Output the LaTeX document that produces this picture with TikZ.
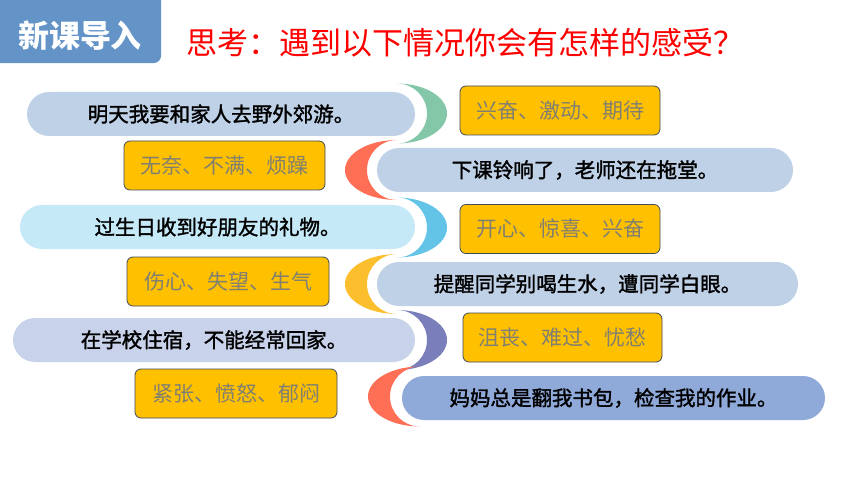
\documentclass[tikz,border=0pt]{standalone}
\usepackage{fontspec}
\setmainfont{Noto Sans CJK SC}
\newfontfamily\pillfont{Noto Sans CJK SC}[FakeBold=1.6]
\definecolor{titleblue}{HTML}{6393C7}
\definecolor{pillA}{HTML}{BFD1E7}
\definecolor{pillC}{HTML}{C6E9F8}
\definecolor{pillE}{HTML}{C8D2EA}
\definecolor{pillF}{HTML}{8FA9D9}
\definecolor{boxfill}{HTML}{FFC000}
\definecolor{boxline}{HTML}{404A5A}
\definecolor{boxtext}{HTML}{7F7F72}
\definecolor{cgreen}{HTML}{84C7A8}
\definecolor{cred}{HTML}{FF6F55}
\definecolor{cblue}{HTML}{63C4E8}
\definecolor{cyellow}{HTML}{FBBF2D}
\definecolor{cpurple}{HTML}{7A7FBB}
\begin{document}
\begin{tikzpicture}[x=1pt,y=-1pt,
  pill/.style={rectangle, rounded corners=22pt, minimum height=44pt, inner sep=0pt,
    font=\fontsize{20.5}{24}\pillfont, text=black},
  emobox/.style={rectangle, rounded corners=6pt, draw=boxline, line width=0.8pt, fill=boxfill,
    minimum height=49pt, minimum width=200pt, inner sep=0pt,
    font=\fontsize{21}{25}\selectfont, text=boxtext}]
\useasboundingbox (0,0) rectangle (860,484);
% title
\node[rectangle, rounded corners=8pt, fill=titleblue, minimum width=170pt, minimum height=73pt,
  anchor=north west, inner sep=0pt] (tbox) at (-9,-10) {};
\node[text=white, font=\fontsize{31}{34}\selectfont\bfseries, inner sep=0pt] (ttext) at (80,36) {新课导入};
\node[text=red, font=\fontsize{31}{36}\selectfont, anchor=west, inner sep=0pt] (q) at (186,43) {思考：遇到以下情况你会有怎样的感受？};
% crescents
\fill[cgreen] (397,83.5) arc[start angle=90,end angle=-90,x radius=50pt,y radius=30pt]
  arc[start angle=-90,end angle=90,radius=30pt] -- cycle;
\fill[cred] (397,140) arc[start angle=90,end angle=270,x radius=52pt,y radius=30pt]
  arc[start angle=270,end angle=90,radius=30pt] -- cycle;
\fill[cblue] (397,197.5) arc[start angle=90,end angle=-90,x radius=50pt,y radius=30pt]
  arc[start angle=-90,end angle=90,radius=30pt] -- cycle;
\fill[cyellow] (397,254) arc[start angle=90,end angle=270,x radius=52pt,y radius=30pt]
  arc[start angle=270,end angle=90,radius=30pt] -- cycle;
\fill[cpurple] (397,310) arc[start angle=90,end angle=-90,x radius=50pt,y radius=30pt]
  arc[start angle=-90,end angle=90,radius=30pt] -- cycle;
\fill[cred] (420,366.5) arc[start angle=90,end angle=270,x radius=52pt,y radius=30pt]
  arc[start angle=270,end angle=90,radius=30pt] -- cycle;
% pills
\node[pill, fill=pillA, minimum width=388pt] (p1) at (221,114) {明天我要和家人去野外郊游。};
\node[pill, fill=pillA, minimum width=416pt] (p2) at (585,170) {下课铃响了，老师还在拖堂。};
\node[pill, fill=pillC, minimum width=395pt] (p3) at (217.5,227) {过生日收到好朋友的礼物。};
\node[pill, fill=pillA, minimum width=421pt] (p4) at (587.5,284) {提醒同学别喝生水，遭同学白眼。};
\node[pill, fill=pillE, minimum width=402pt] (p5) at (214,340) {在学校住宿，不能经常回家。};
\node[pill, fill=pillF, minimum width=423pt] (p6) at (613.5,398) {妈妈总是翻我书包，检查我的作业。};
% feeling boxes
\node[emobox] (b1) at (560,110.5) {兴奋、激动、期待};
\node[emobox, minimum width=201pt] (b2) at (224.5,165.5) {无奈、不满、烦躁};
\node[emobox] (b3) at (560,229) {开心、惊喜、兴奋};
\node[emobox, minimum width=202pt] (b4) at (228,281.5) {伤心、失望、生气};
\node[emobox, minimum width=199pt] (b5) at (562.5,337.5) {沮丧、难过、忧愁};
\node[emobox, minimum width=202pt] (b6) at (236,393.5) {紧张、愤怒、郁闷};
\end{tikzpicture}
\end{document}
